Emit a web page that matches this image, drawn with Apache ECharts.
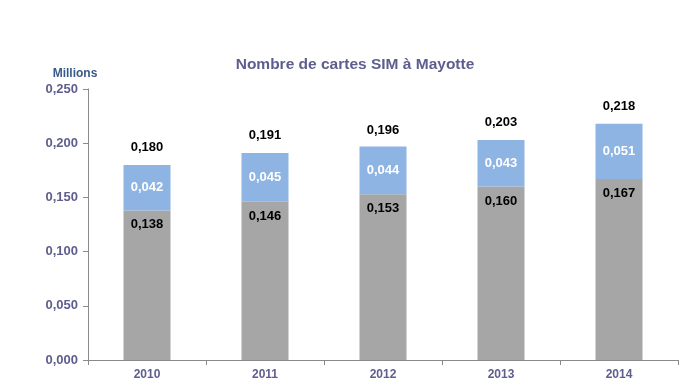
<!DOCTYPE html>
<html><head><meta charset="utf-8">
<script src="https://cdn.jsdelivr.net/npm/echarts@6/dist/echarts.min.js"></script>
<style>html,body{margin:0;padding:0;background:#fff}#c{width:696px;height:385px}</style>
</head><body><div id="c"></div>
<script>
var years = ['2010','2011','2012','2013','2014'];
var base = [0.138,0.146,0.153,0.160,0.167];
var extra = [0.042,0.045,0.044,0.043,0.051];
var totals = [0.180,0.191,0.196,0.203,0.218];
var yTicks = [0,0.05,0.1,0.15,0.2,0.25];
function fmt(v){return v.toFixed(3).replace('.',',');}
var font = 'Liberation Sans, Arial, sans-serif';
var chart = echarts.init(document.getElementById('c'));
chart.setOption({
  animation:false,
  title:{text:'Nombre de cartes SIM à Mayotte',left:350,top:52,textAlign:'center',
    textStyle:{fontFamily:font,fontSize:15.5,fontWeight:'bold',color:'#5E5E8E'}},
  grid:{left:88,right:18,top:89,bottom:25,containLabel:false},
  xAxis:{type:'category',data:years,
    axisLine:{lineStyle:{color:'#8a8a8a',width:1}},
    axisTick:{show:true,alignWithLabel:false,length:5,lineStyle:{color:'#8a8a8a'}},
    axisLabel:{fontFamily:font,fontSize:12,fontWeight:'bold',color:'#5E5E8E',margin:9}},
  yAxis:{type:'value',min:0,max:0.25,interval:0.05,
    name:'Millions',nameLocation:'end',nameGap:9,
    nameTextStyle:{fontFamily:font,fontSize:12,fontWeight:'bold',color:'#3A5A8A',align:'center',padding:[0,0,0,-26]},
    splitLine:{show:false},
    axisLine:{show:true,lineStyle:{color:'#8a8a8a'}},
    axisTick:{show:true,length:5,lineStyle:{color:'#8a8a8a'}},
    axisLabel:{fontFamily:font,fontSize:13,fontWeight:'bold',color:'#5E5E8E',margin:10,
      formatter:function(v){return fmt(v);}}},
  series:[
    {type:'bar',stack:'s',data:base,barWidth:47,itemStyle:{color:'#A6A6A6'},
     label:{show:true,position:'insideTop',distance:8,fontFamily:font,fontSize:13,fontWeight:'bold',color:'#000',
       formatter:function(p){return fmt(p.value);}}},
    {type:'bar',stack:'s',data:extra,barWidth:47,itemStyle:{color:'#8DB4E2'},
     label:{show:true,position:'inside',fontFamily:font,fontSize:13,fontWeight:'bold',color:'#fff',
       formatter:function(p){return fmt(p.value);}}},
    {type:'line',data:totals,symbol:'circle',symbolSize:0.1,showSymbol:true,lineStyle:{opacity:0},silent:true,
     itemStyle:{color:'rgba(0,0,0,0)'},
     label:{show:true,position:'top',distance:11,fontFamily:font,fontSize:13,fontWeight:'bold',color:'#000',
       formatter:function(p){return fmt(p.value);}}}
  ]
});
</script></body></html>
